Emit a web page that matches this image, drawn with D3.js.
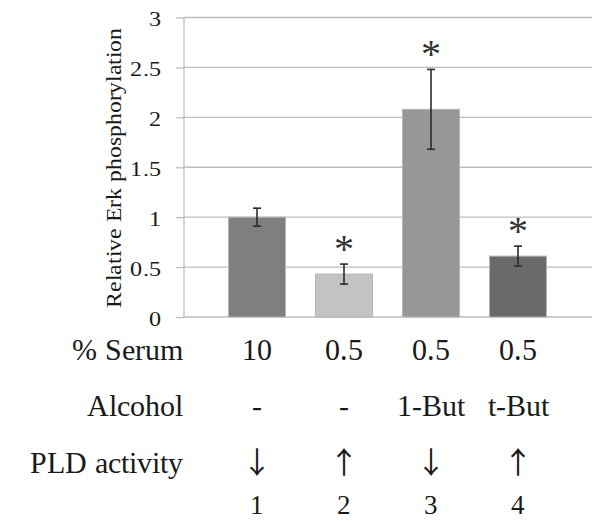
<!DOCTYPE html>
<html>
<head>
<meta charset="utf-8">
<script src="https://cdn.jsdelivr.net/npm/d3@7"></script>
<style>
  @font-face { font-family: "ChartSerif"; src: local("Liberation Serif"), local("LiberationSerif"), local("LiberationSerif-Regular"), local("Tinos"), local("DejaVu Serif"); }
</style>
</head>
<body style="margin:0;background:#fff">
<svg id="chart" width="596" height="521"></svg>
<script>
// lanes and their readings
var lanes = ["1", "2", "3", "4"];
var serum = ["10", "0.5", "0.5", "0.5"];
var alcohol = ["-", "-", "1-But", "t-But"];
var pldActivity = ["\u2193", "\u2191", "\u2193", "\u2191"];
var erkValues = [1.0, 0.43, 2.08, 0.61];
var erkErrors = [0.09, 0.1, 0.4, 0.1];
var significant = [false, true, true, true];
var yTicks = [0, 0.5, 1, 1.5, 2, 2.5, 3];
var rowLabels = ["% Serum", "Alcohol", "PLD activity"];

var serifFont = "ChartSerif, 'Liberation Serif', 'Noto Serif CJK JP', serif";
var arrowFont = "'Noto Sans CJK JP'";

var svg = d3.select("#chart"),
    plotLeft = 184,
    plotRight = 592,
    plotTop = 17.5,
    plotBottom = 317;

var x = d3.scaleBand().domain(lanes)
    .range([213.5, 561.5])
    .paddingInner(0.345)
    .paddingOuter(0.1725);
var y = d3.scaleLinear().domain([0, 3]).range([plotBottom, plotTop]);
var color = d3.scaleOrdinal().domain(lanes)
    .range(["#7f7f7f", "#c3c3c3", "#979797", "#6a6a6a"]);

var laneData = lanes.map(function (l, i) {
    return { lane: l, value: erkValues[i], err: erkErrors[i], sig: significant[i] };
});

function serif(sel, size) {
    return sel.style("font-family", serifFont)
        .attr("font-size", size)
        .attr("fill", "#1a1a1a");
}

// gridlines
svg.append("g")
    .selectAll("line")
    .data(yTicks)
    .enter().append("line")
    .attr("x1", plotLeft).attr("x2", plotRight)
    .attr("y1", function (d) { return y(d); })
    .attr("y2", function (d) { return y(d); })
    .attr("stroke", "#bdbdbd")
    .attr("stroke-width", 1.3);

// y axis
var yAxis = svg.append("g")
    .attr("transform", "translate(" + plotLeft + ",0)")
    .call(d3.axisLeft(y).tickValues(yTicks).tickSize(8).tickPadding(14)
        .tickFormat(function (d) { return d; }));
yAxis.selectAll("path.domain, .tick line").attr("stroke", "#bdbdbd").attr("stroke-width", 1.3);
yAxis.select("path.domain").attr("d", "M0," + plotTop + "V" + plotBottom);
serif(yAxis.selectAll(".tick text"), 21)
    .attr("x", -22 / 1.15)
    .attr("dy", "0.4em")
    .attr("transform", "scale(1.15,1)");

serif(svg.append("text"), 22)
    .attr("transform", "translate(121,168) rotate(-90)")
    .attr("text-anchor", "middle")
    .attr("textLength", 280)
    .attr("lengthAdjust", "spacingAndGlyphs")
    .text("Relative Erk phosphorylation");

// bars
svg.append("g")
    .selectAll("rect")
    .data(laneData)
    .enter().append("rect")
    .attr("x", function (d) { return x(d.lane); })
    .attr("width", x.bandwidth())
    .attr("y", function (d) { return y(d.value); })
    .attr("height", function (d) { return y(0) - y(d.value); })
    .attr("fill", function (d) { return color(d.lane); })
    .attr("stroke", "#b5b5b5")
    .attr("stroke-width", 1);

// error bars
var err = svg.append("g").attr("stroke", "#2a2a2a").attr("stroke-width", 1.6);
laneData.forEach(function (d) {
    var cx = x(d.lane) + x.bandwidth() / 2,
        hi = y(d.value + d.err),
        lo = y(d.value - d.err);
    err.append("line").attr("x1", cx).attr("x2", cx).attr("y1", hi).attr("y2", lo);
    err.append("line").attr("x1", cx - 4).attr("x2", cx + 4).attr("y1", hi).attr("y2", hi);
    err.append("line").attr("x1", cx - 4).attr("x2", cx + 4).attr("y1", lo).attr("y2", lo);
});

// significance marks
serif(svg.append("g")
    .selectAll("text")
    .data(laneData.filter(function (d) { return d.sig; }))
    .enter().append("text"), 40)
    .attr("x", function (d) { return x(d.lane) + x.bandwidth() / 2; })
    .attr("y", function (d) { return y(d.value + d.err) - 2; })
    .attr("text-anchor", "middle")
    .attr("fill", "#333")
    .text("*");

// condition table under the chart
var rows = [serum, alcohol, pldActivity];
var rowBaselines = [360, 416, 473];
rows.forEach(function (row, r) {
    serif(svg.append("text"), 30)
        .attr("x", 183)
        .attr("y", rowBaselines[r])
        .attr("text-anchor", "end")
        .text(rowLabels[r]);
    var cells = serif(svg.append("g")
        .selectAll("text")
        .data(row)
        .enter().append("text"), 30)
        .attr("x", function (d, i) { return x(lanes[i]) + x.bandwidth() / 2; })
        .attr("y", rowBaselines[r])
        .attr("text-anchor", "middle")
        .text(function (d) { return d; });
    if (r === 2) cells.style("font-family", arrowFont);
});

// lane numbers
var laneAxis = svg.append("g")
    .attr("transform", "translate(0,495)")
    .call(d3.axisBottom(x).tickSize(0).tickPadding(0));
laneAxis.select("path.domain").remove();
serif(laneAxis.selectAll(".tick text"), 27);
</script>
</body>
</html>
